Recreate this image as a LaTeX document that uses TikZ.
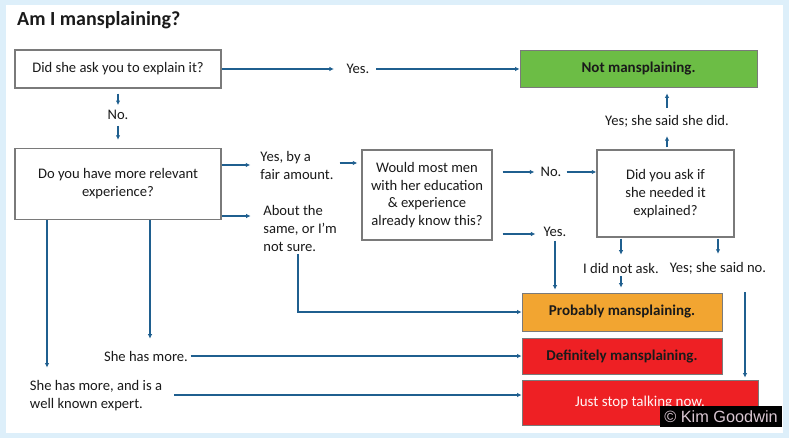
\documentclass[tikz,border=0pt]{standalone}
\usepackage{fontspec}
\setmainfont{Carlito}
\newfontfamily\credfont{Liberation Sans}
\usetikzlibrary{arrows.meta}
\definecolor{bgblue}{HTML}{DDEFFA}
\definecolor{arrowblue}{HTML}{1F5F8F}
\definecolor{boxgray}{HTML}{7A7A7A}
\definecolor{okgreen}{HTML}{6CBD45}
\definecolor{proborange}{HTML}{F2A531}
\definecolor{defred}{HTML}{EE2024}
\definecolor{credtext}{HTML}{D9C6D2}
\definecolor{txt}{HTML}{1A1A1A}
\begin{document}
\begin{tikzpicture}[x=1pt,y=-1pt,
  qbox/.style={draw=boxgray,line width=1.4pt,fill=white,align=center,inner sep=2pt,text=txt,font=\fontsize{14.6}{18}\selectfont},
  lbl/.style={inner sep=1.5pt,text=txt,font=\fontsize{14.6}{18}\selectfont},
  result/.style={draw=boxgray,line width=0.8pt,inner sep=2pt,text=txt,font=\bfseries\fontsize{15}{16}\selectfont},
  arr/.style={draw=arrowblue,line width=1.4pt,-{Latex[length=4.5pt,width=4.5pt]}}]
\fill[bgblue] (0,0) rectangle (789,438);
\fill[white] (6,5) rectangle (783,433);
\useasboundingbox (0,0) rectangle (789,438);

\node[anchor=west,inner sep=0,text=txt,font=\bfseries\fontsize{20}{22}\selectfont] (title) at (17,20) {Am I mansplaining?};

\node[qbox,minimum width=206,minimum height=38] (b1) at (118,69) {Did she ask you to explain it?};
\node[lbl] (yes1) at (358,69) {Yes.};
\node[result,fill=okgreen,minimum width=237,minimum height=37] (notm) at (638.5,69) {Not mansplaining.};
\node[lbl] (no1) at (118,115) {No.};

\node[qbox,minimum width=206,minimum height=71] (b2) at (118,184) {Do you have more relevant\\experience?};
\node[lbl,align=left] (yesfair) at (297,165) {Yes, by a\\fair amount.};
\node[lbl,align=left] (about) at (300,228) {About the\\same, or I'm\\not sure.};
\coordinate (ab) at ([yshift=12pt]about.west);

\node[qbox,minimum width=130,minimum height=90,font=\fontsize{14.6}{17.5}\selectfont] (b3) at (427,195) {Would most men\\with her education\\\& experience\\already know this?};
\node[lbl] (no2) at (551,172) {No.};
\node[lbl] (yes3) at (555,232) {Yes.};

\node[qbox,minimum width=137,minimum height=87] (b4) at (665.5,193.5) {Did you ask if\\she needed it\\explained?};
\node[lbl] (yesdid) at (667,121) {Yes; she said she did.};
\node[lbl] (didnot) at (621,268) {I did not ask.};
\node[lbl] (saidno) at (718,268) {Yes; she said no.};

\node[result,fill=proborange,minimum width=200,minimum height=38] (prob) at (622,312) {Probably mansplaining.};
\node[result,fill=defred,minimum width=200,minimum height=36] (def) at (622,356) {Definitely mansplaining.};
\node[draw=boxgray,line width=0.8pt,fill=defred,minimum width=236,minimum height=45,text=white!85!pink,font=\fontsize{15}{16}\selectfont] (just) at (640,402.5) {Just stop talking now.};
\node[fill=black,text=credtext,inner sep=0,minimum width=122,minimum height=21,font=\credfont\fontsize{16.3}{17}\selectfont] (credit) at (721,416.5) {© Kim Goodwin};

\node[lbl] (hasmore) at (146,356) {She has more.};
\node[lbl,align=left] (expert) at (96,396) {She has more, and is a\\well known expert.};

% connectors
\draw[arr,shorten >=11pt] (b1.east) -- (yes1.west);
\draw[arr,shorten <=5pt] (yes1.east) -- (notm.west);
\draw[arr,shorten <=5pt,shorten >=3.5pt] (b1.south) -- (no1.north);
\draw[arr,shorten <=4.5pt,shorten >=8pt] (no1.south) -- (b2.north);

\draw[arr,shorten >=8.5pt] (b2.east |- yesfair.west) -- (yesfair.west);
\draw[arr,shorten >=11pt] (b2.east |- ab) -- (ab);
\draw[arr,shorten <=4.5pt,shorten >=4pt] ([yshift=2pt]yesfair.east) -- ([yshift=2pt]yesfair.east -| b3.west);
\draw[arr,shorten <=10pt,shorten >=4.5pt] (b3.east |- no2.west) -- (no2.west);
\draw[arr,shorten <=3.5pt] (no2.east) -- (no2.east -| b4.west);
\draw[arr,shorten <=10pt,shorten >=6.5pt] ([yshift=-2pt]b3.east |- yes3.west) -- ([yshift=-2pt]yes3.west);
\draw[arr,shorten <=2.5pt,shorten >=3pt] (yes3.south) -- (yes3.south |- prob.north);

\draw[arr,shorten <=2pt,shorten >=7.5pt] (yesdid.south |- b4.north) -- (yesdid.south);
\draw[arr,shorten <=5.5pt,shorten >=5.5pt] (yesdid.north) -- (yesdid.north |- notm.south);
\draw[arr,shorten <=1pt,shorten >=6.5pt] (didnot.north |- b4.south) -- (didnot.north);
\draw[arr,shorten <=1.5pt,shorten >=5pt] (didnot.south) -- (didnot.south |- prob.north);
\draw[arr,shorten <=1pt,shorten >=6.5pt] (saidno.north |- b4.south) -- (saidno.north);
\draw[arr,shorten <=16.5pt,shorten >=2pt] ([xshift=27pt]saidno.south) -- ([xshift=27pt]saidno.south |- just.north);

\draw[arr,shorten <=1pt] ([xshift=-2pt]about.south) |- (prob.west);
\draw[arr,shorten >=11.5pt] ([xshift=-71pt]b2.south) -- ([xshift=-71pt]b2.south |- expert.north);
\draw[arr,shorten >=10.5pt] ([xshift=32pt]b2.south) -- ([xshift=32pt]b2.south |- hasmore.north);
\draw[arr,shorten <=1pt] (hasmore.east) -- (def.west);
\draw[arr,shorten <=10.5pt] ([yshift=1pt]expert.east) -- ([yshift=1pt]expert.east -| just.west);
\end{tikzpicture}
\end{document}
